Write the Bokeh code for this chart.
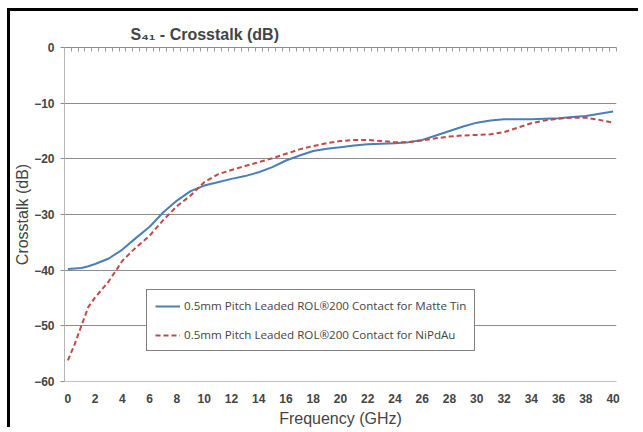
from bokeh.plotting import figure
from bokeh.models import Range1d, FixedTicker, LinearAxis, Legend, LegendItem
from bokeh.embed import file_html
from bokeh.resources import INLINE

# ---- data ----
freq = [0, 0.5, 1, 1.5, 2, 3, 4, 5, 6, 7, 8, 9, 10, 11, 12, 13, 14, 15, 16, 17, 18, 19,
        20, 21, 22, 23, 24, 25, 26, 27, 28, 29, 30, 31, 32, 33, 34, 35, 36, 37, 38, 39, 40]
matte_tin = [-39.8, -39.7, -39.6, -39.3, -38.9, -37.9, -36.3, -34.2, -32.2, -29.6, -27.5,
             -25.8, -24.8, -24.2, -23.6, -23.1, -22.4, -21.5, -20.3, -19.4, -18.6, -18.2,
             -17.9, -17.6, -17.4, -17.3, -17.2, -17.0, -16.6, -15.8, -15.0, -14.2, -13.5,
             -13.1, -12.9, -12.9, -12.9, -12.8, -12.7, -12.5, -12.3, -11.9, -11.5]
nipdau = [-56.2, -53.3, -49.9, -46.6, -44.9, -42.0, -38.3, -35.9, -33.8, -31.0, -28.5,
          -26.6, -24.2, -22.8, -22.0, -21.3, -20.6, -19.9, -19.1, -18.3, -17.7, -17.2,
          -16.8, -16.6, -16.6, -16.8, -17.0, -17.0, -16.7, -16.3, -16.0, -15.8, -15.7,
          -15.6, -15.2, -14.4, -13.6, -13.1, -12.8, -12.6, -12.6, -13.0, -13.5]
x_ticks = list(range(0, 41, 2))
y_ticks = [0, -10, -20, -30, -40, -50, -60]
grid_ticks = [-10, -20, -30, -40, -50]
series_names = ["0.5mm Pitch Leaded ROL\u00ae200 Contact for Matte Tin",
                "0.5mm Pitch Leaded ROL\u00ae200 Contact for NiPdAu"]
title_text = "S\u2084\u2081 - Crosstalk (dB)"
x_label = "Frequency (GHz)"
y_label = "Crosstalk (dB)"

FONT = "Liberation Sans"

p = figure(width=631, height=419, output_backend="svg", toolbar_location=None,
           x_range=Range1d(-0.25, 40.25), y_range=Range1d(-60, 0),
           min_border_left=54, min_border_top=36, min_border_right=25, min_border_bottom=49)
p.styles = {"margin-left": "7px", "margin-top": "8px",
            "border-left": "3px solid black", "border-top": "3px solid black"}
p.outline_line_color = None
p.background_fill_color = "white"
p.border_fill_color = "white"

# title
p.title.text = title_text
p.title.text_font = FONT
p.title.text_font_style = "bold"
p.title.text_font_size = "16px"
p.title.align = "left"
p.title.offset = 66
p.title.standoff = 10

# grid
p.xgrid.visible = False
p.ygrid.ticker = FixedTicker(ticks=grid_ticks)
p.ygrid.grid_line_color = "#8c8c8c"
p.ygrid.grid_line_width = 1

# y axis
ya = p.yaxis[0]
ya.ticker = FixedTicker(ticks=y_ticks)
ya.axis_line_color = "#b5b5b5"
ya.major_tick_line_color = "#8c8c8c"
ya.major_tick_out = 4
ya.major_tick_in = 0
ya.minor_tick_line_color = None
ya.major_label_text_font = FONT
ya.major_label_text_font_style = "bold"
ya.major_label_text_font_size = "12px"
ya.major_label_standoff = 6
ya.axis_label = y_label
ya.axis_label_text_font = FONT
ya.axis_label_text_font_style = "normal"
ya.axis_label_text_font_size = "16px"
ya.axis_label_standoff = 0

# x axis (labels at bottom)
xa = p.xaxis[0]
xa.ticker = FixedTicker(ticks=x_ticks)
xa.axis_line_color = "#c0c0c0"
xa.major_tick_out = 0
xa.major_tick_in = 0
xa.minor_tick_line_color = None
xa.major_label_text_font = FONT
xa.major_label_text_font_style = "bold"
xa.major_label_text_font_size = "12px"
xa.major_label_standoff = 12
xa.axis_label = x_label
xa.axis_label_text_font = FONT
xa.axis_label_text_font_style = "normal"
xa.axis_label_text_font_size = "16px"
xa.axis_label_standoff = 4

# top axis line at 0 dB with small category tick marks
top = LinearAxis(ticker=FixedTicker(ticks=[-0.25 + 0.5 * k for k in range(82)]))
top.axis_line_color = "#8c8c8c"
top.major_tick_line_color = "#9a9a9a"
top.major_tick_in = 4
top.major_tick_out = 0
top.minor_tick_line_color = None
top.major_label_text_alpha = 0
top.major_label_text_font_size = "0px"
top.major_label_standoff = 0
p.add_layout(top, "above")

r1 = p.line(freq, matte_tin, line_color="#4a7ebb", line_width=2)
r2 = p.line(freq, nipdau, line_color="#be4b48", line_width=2, line_dash="5 3")

legend = Legend(items=[LegendItem(label=series_names[0], renderers=[r1]),
                       LegendItem(label=series_names[1], renderers=[r2])],
                location=(82, 30))
legend.border_line_color = "black"
legend.border_line_width = 1.5
legend.background_fill_color = "white"
legend.background_fill_alpha = 1
legend.padding = 8
legend.spacing = 14
legend.margin = 0
legend.label_height = 14
legend.glyph_height = 14
legend.glyph_width = 25
legend.label_standoff = 4
legend.label_text_font = "Open Sans"
legend.label_text_font_size = "11.6px"
p.add_layout(legend, "center")

open("out.html", "w").write(file_html(p, INLINE))
